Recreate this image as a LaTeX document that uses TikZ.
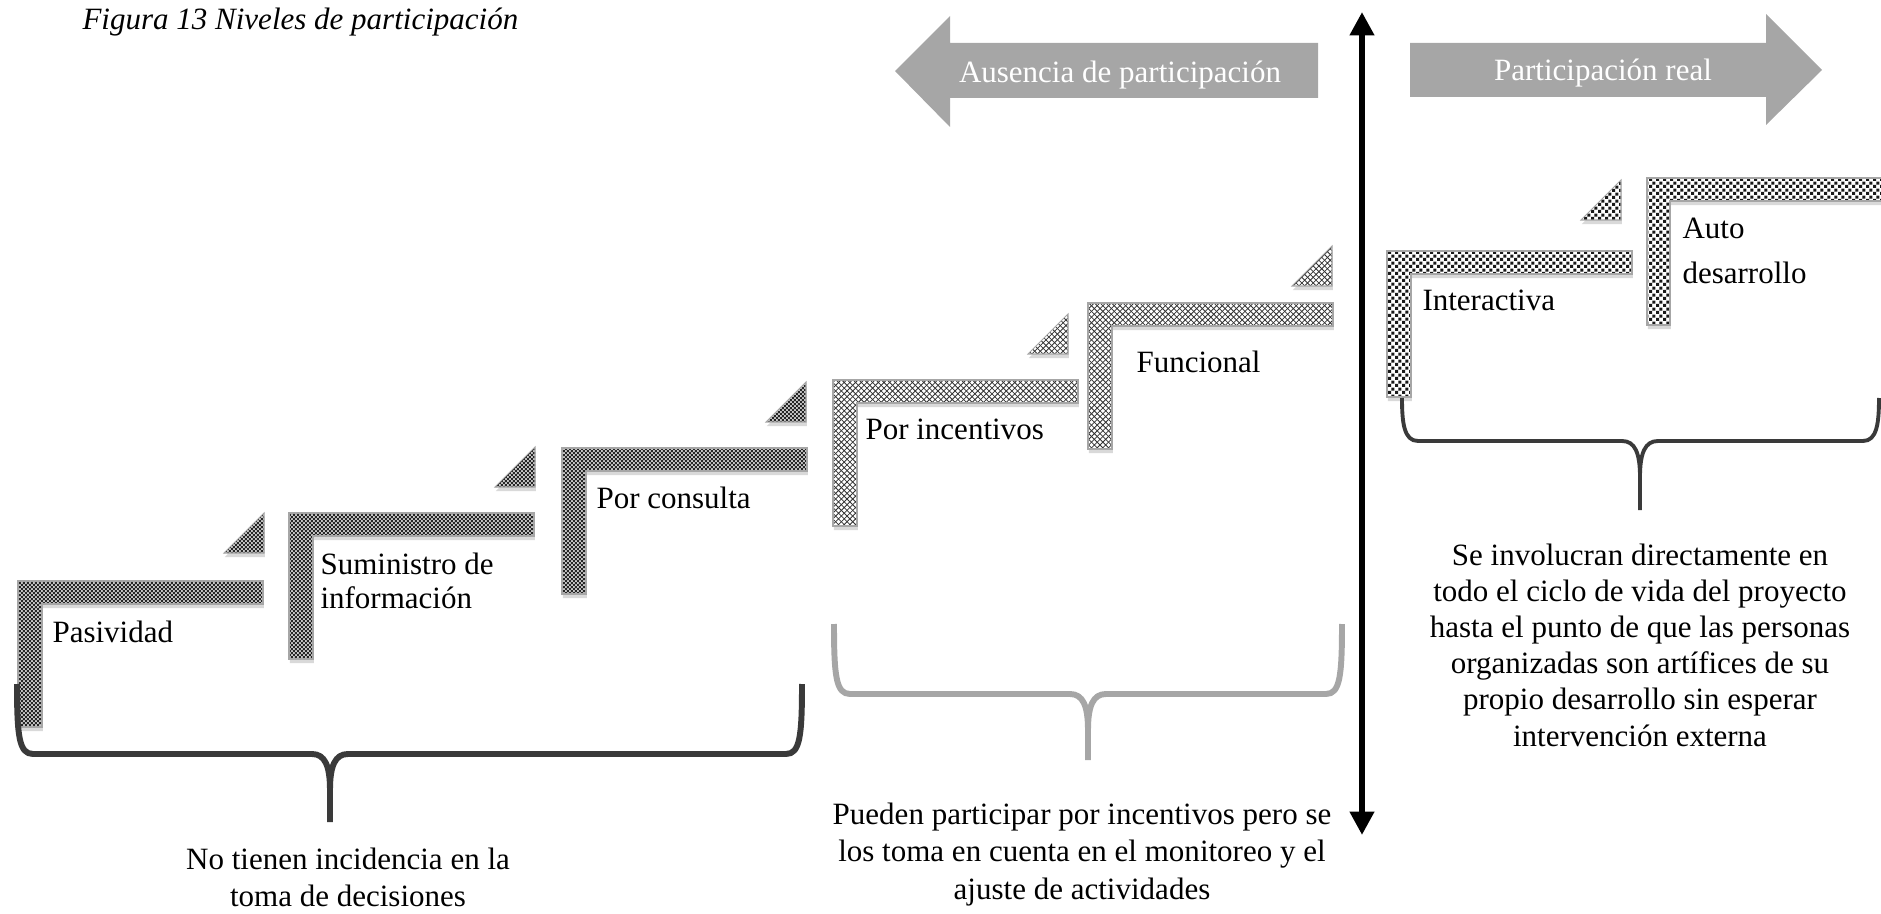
\documentclass[tikz,border=0pt]{standalone}
\usepackage{fontspec}
\setmainfont{Liberation Serif}
\usetikzlibrary{patterns,shadows,arrows.meta}
\definecolor{grisflecha}{HTML}{A6A6A6}
\definecolor{grisoscuro}{HTML}{3A3A3A}

\pgfdeclarepatternformonly{damero}{\pgfpointorigin}{\pgfqpoint{1.7pt}{1.7pt}}{\pgfqpoint{1.7pt}{1.7pt}}{
  \pgfpathrectangle{\pgfpointorigin}{\pgfqpoint{0.85pt}{0.85pt}}
  \pgfpathrectangle{\pgfqpoint{0.85pt}{0.85pt}}{\pgfqpoint{0.85pt}{0.85pt}}
  \pgfusepath{fill}
}
\pgfdeclarepatternformonly{trenzado}{\pgfqpoint{-0.3pt}{-0.3pt}}{\pgfqpoint{2.5pt}{2.5pt}}{\pgfqpoint{2.2pt}{2.2pt}}{
  \pgfsetlinewidth{0.3pt}
  \pgfpathmoveto{\pgfpointorigin}\pgfpathlineto{\pgfqpoint{2.2pt}{2.2pt}}
  \pgfpathmoveto{\pgfqpoint{0pt}{2.2pt}}\pgfpathlineto{\pgfqpoint{2.2pt}{0pt}}
  \pgfusepath{stroke}
}
\pgfdeclarepatternformonly{bloques}{\pgfpointorigin}{\pgfqpoint{2.8pt}{2.8pt}}{\pgfqpoint{2.8pt}{2.8pt}}{
  \pgfpathrectangle{\pgfpointorigin}{\pgfqpoint{1.3pt}{1.3pt}}
  \pgfpathrectangle{\pgfqpoint{1.4pt}{1.4pt}}{\pgfqpoint{1.3pt}{1.3pt}}
  \pgfusepath{fill}
}

% peldano: esquina x, esquina y, estilo
\newcommand\peldano[3]{
  \draw[#3] (#1,#2) -- ++(245,0) -- ++(0,23) -- ++(-221,0) -- ++(0,123) -- ++(-24,0) -- cycle;
}
% punta: esquina inferior derecha, estilo
\newcommand\punta[3]{
  \draw[#3] (#1,#2) -- ++(-40,0) -- ++(40,-40) -- cycle;
}
% llave: izquierda, punta, derecha, arriba, linea, abajo
\newcommand\llave[6]{
  (#1,#4) .. controls (#1,#5-18) and (#1+2,#5) .. (#1+16,#5) -- (#2-18,#5)
  .. controls (#2-5,#5) and (#2,#5+12) .. (#2,#5+36) -- (#2,#6)
  (#2,#5+36) .. controls (#2,#5+12) and (#2+5,#5) .. (#2+18,#5) -- (#3-16,#5)
  .. controls (#3-2,#5) and (#3,#5-18) .. (#3,#4)
}

\begin{document}
\begin{tikzpicture}[x=0.387pt, y=-0.387pt,
  escalon/.style = {draw=gray!70, line width=0.4pt,
    drop shadow={shadow xshift=0.3pt, shadow yshift=-1.6pt, opacity=0.3}},
  nivelbajo/.style = {escalon, preaction={fill=gray!45}, pattern=damero, pattern color=black!85},
  nivelmedio/.style = {escalon, preaction={fill=white}, pattern=trenzado, pattern color=black!80},
  nivelalto/.style = {escalon, preaction={fill=white}, pattern=bloques, pattern color=black!90},
  etiqueta/.style = {anchor=base west, inner sep=0, align=left, font=\fontsize{12}{13}\selectfont},
  nota/.style = {anchor=base, inner sep=0, align=center, font=\fontsize{12}{14}\selectfont},
  flecha/.style = {fill=grisflecha},
  llavestyle/.style = {line width=2.3pt, line join=round}]
	\clip (0,0) rectangle (1881,914);

	\node[anchor=west, inner sep=0, font=\fontsize{12}{14}\selectfont\itshape] (titulo) at (82,22) {Figura 13 Niveles de participación};

	% flechas de arriba
	\fill[flecha] (895,71) -- (950,16) -- (950,43) -- (1318,43) -- (1318,98) -- (950,98) -- (950,127) -- cycle;
	\fill[flecha] (1410,43) -- (1766,43) -- (1766,14) -- (1822,70) -- (1766,125) -- (1766,97) -- (1410,97) -- cycle;
	\node[text=white, font=\fontsize{12}{14}\selectfont] (ausencia) at (1120,75) {Ausencia de participación};
	\node[text=white, font=\fontsize{12}{14}\selectfont] (real) at (1603,73) {Participación real};

	\coordinate (ejearriba) at (1362,12);
	\coordinate (ejeabajo) at (1362,835);
	\draw[line width=2.7pt, {Triangle[length=9pt,width=9pt]}-{Triangle[length=9pt,width=9pt]}] (ejearriba) -- (ejeabajo);

	% escalones
	\peldano{18}{581}{nivelbajo}
	\punta{264}{553}{nivelbajo}
	\peldano{289}{513}{nivelbajo}
	\punta{535}{487}{nivelbajo}
	\peldano{562}{448}{nivelbajo}
	\punta{806}{422}{nivelbajo}
	\peldano{833}{380}{nivelmedio}
	\punta{1068}{354}{nivelmedio}
	\peldano{1088}{303}{nivelmedio}
	\punta{1332}{286}{nivelmedio}
	\peldano{1387}{251}{nivelalto}
	\punta{1621}{220}{nivelalto}
	\draw[nivelalto] (1647,178) -- ++(300,0) -- ++(0,23) -- ++(-277,0) -- ++(0,124) -- ++(-23,0) -- cycle;

	\node[etiqueta] (pasividad) at (52,642) {Pasividad};
	\node[etiqueta] (suministro) at (320,608) {Suministro de\\información};
	\node[etiqueta] (consulta) at (596,508) {Por consulta};
	\node[etiqueta] (incentivos) at (865,439) {Por incentivos};
	\node[etiqueta] (funcional) at (1136,373) {Funcional};
	\node[etiqueta] (interactiva) at (1422,311) {Interactiva};
	\node[etiqueta, font=\fontsize{12}{17.8}\selectfont] (auto) at (1682,284) {Auto\\desarrollo};

	% llaves
	\draw[llavestyle, grisoscuro] \llave{17}{330}{802}{684}{754}{822};
	\draw[llavestyle, grisflecha] \llave{834}{1088}{1342}{624}{694}{760};
	\draw[llavestyle, grisoscuro, line width=1.5pt] \llave{1402}{1640}{1879}{398}{441}{510};

	\node[nota] (nota1) at (348,906) {No tienen incidencia en la\\toma de decisiones};
	\node[nota, font=\fontsize{12}{14.5}\selectfont] (nota2) at (1082,899) {Pueden participar por incentivos pero se\\los toma en cuenta en el monitoreo y el\\ajuste de actividades};
	\node[nota] (nota3) at (1640,746) {Se involucran directamente en\\todo el ciclo de vida del proyecto\\hasta el punto de que las personas\\organizadas son artífices de su\\propio desarrollo sin esperar\\intervención externa};
\end{tikzpicture}
\end{document}
